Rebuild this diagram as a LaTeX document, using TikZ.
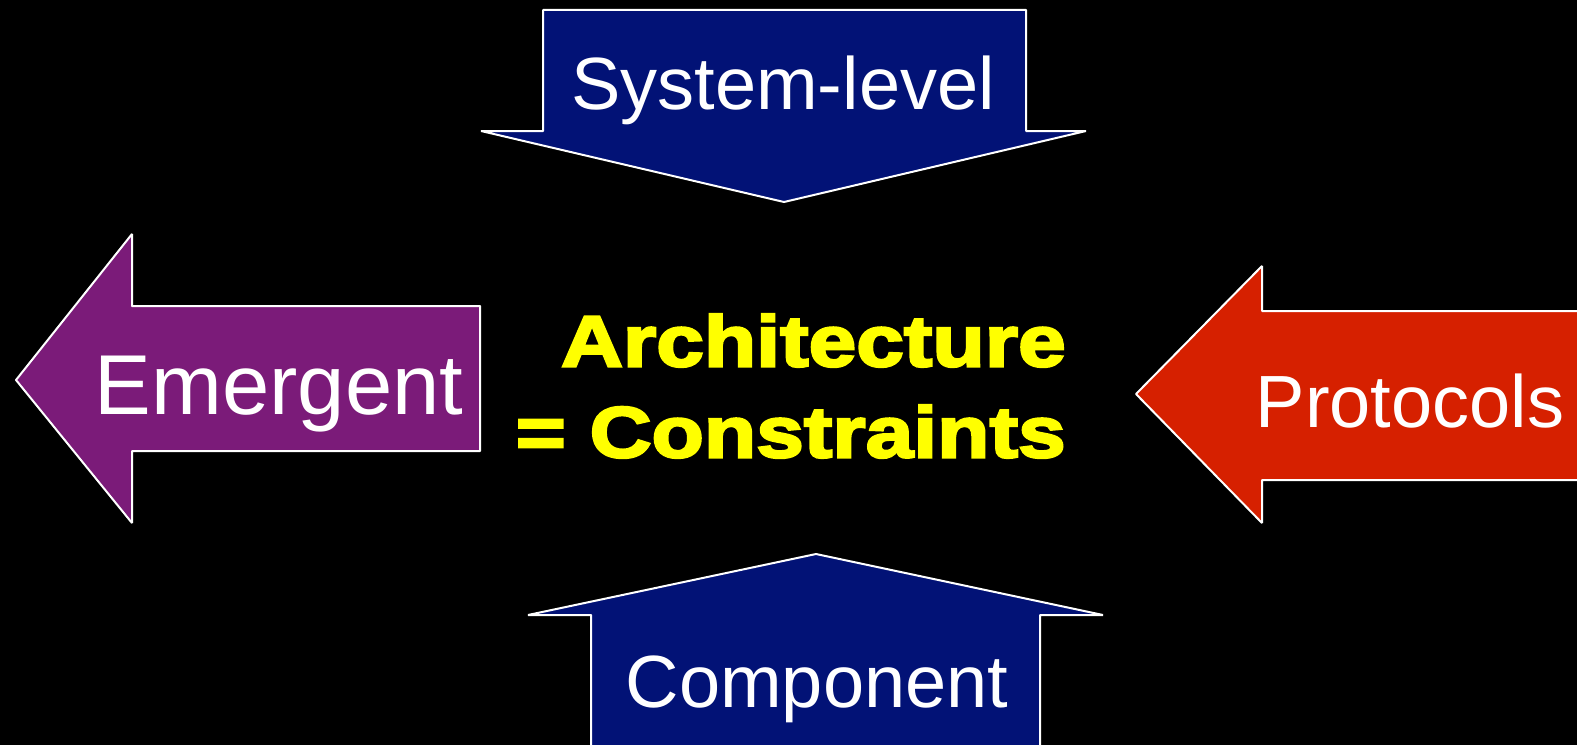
\documentclass[tikz,border=0pt]{standalone}
\usepackage{fontspec}
\setmainfont{Liberation Sans}
\newfontfamily\heavyfont{Liberation Sans Bold}[FakeBold=3.5,FakeStretch=1.19]
\definecolor{navyfill}{RGB}{2,18,118}
\definecolor{plumfill}{RGB}{123,27,121}
\definecolor{redfill}{RGB}{214,32,0}
\definecolor{brightyellow}{RGB}{255,255,0}
\tikzset{
  arrowshape/.style={draw=white, line width=2bp, line join=bevel},
  label/.style={text=white, inner sep=0pt, anchor=base, font=\fontsize{74bp}{80bp}\selectfont},
  headline/.style={text=brightyellow, inner sep=0pt, align=right, font=\heavyfont\fontsize{72bp}{91bp}\selectfont}
}
\begin{document}
\begin{tikzpicture}[x=1bp,y=-1bp]
  \useasboundingbox (0,0) rectangle (1577,745);
  \fill[black] (0,0) rectangle (1577,745);
  \begin{scope}
    \clip (0,0) rectangle (1577,745);
    % downward arrow at the top
    \filldraw[arrowshape, fill=navyfill] (543,10) -- (1026,10) -- (1026,131) -- (1086,131)
      -- (784,202) -- (481,131) -- (543,131) -- cycle;
    % left-pointing arrow on the left
    \filldraw[arrowshape, fill=plumfill] (16,380) -- (132,234) -- (132,306) -- (480,306)
      -- (480,451) -- (132,451) -- (132,523) -- cycle;
    % left-pointing arrow entering from the right edge
    \filldraw[arrowshape, fill=redfill] (1136,394) -- (1262,266) -- (1262,311) -- (1600,311)
      -- (1600,480) -- (1262,480) -- (1262,523) -- cycle;
    % upward arrow at the bottom
    \filldraw[arrowshape, fill=navyfill] (816,554) -- (1103,615) -- (1040,615) -- (1040,770)
      -- (591,770) -- (591,615) -- (528,615) -- cycle;
  \end{scope}
  \node[label] (system) at (783,109) {System-level};
  \node[label, font=\fontsize{85bp}{90bp}\selectfont] (emergent) at (279,414) {Emergent};
  \node[label] (protocols) at (1410,427) {Protocols};
  \node[label] (component) at (817,707) {Component};
  \node[headline, anchor=east] (core) at (1066,386) {Architecture\\= Constraints};
\end{tikzpicture}
\end{document}
